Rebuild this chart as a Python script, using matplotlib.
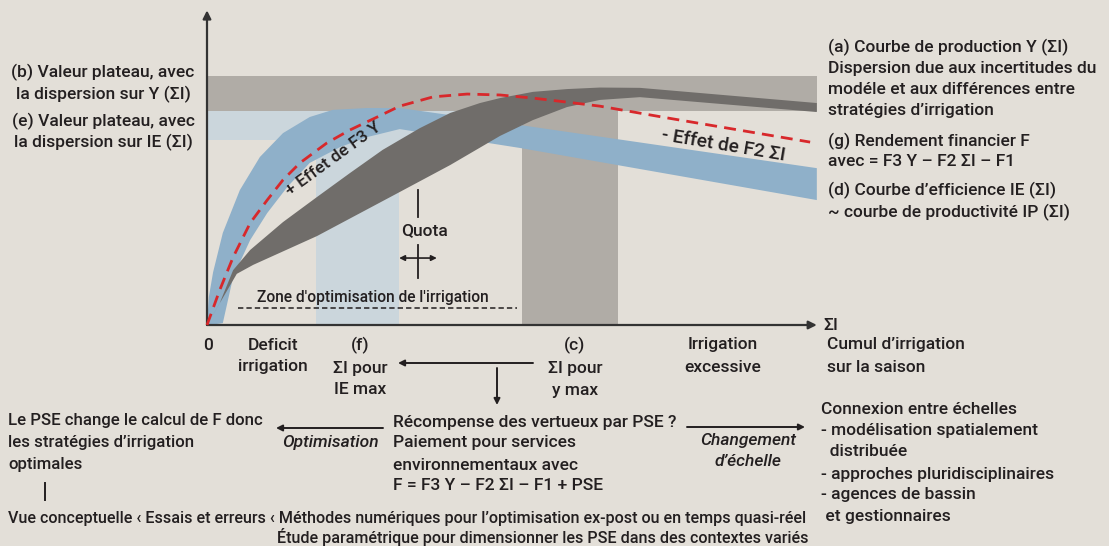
import numpy as np
import matplotlib
matplotlib.use('Agg')
import matplotlib.pyplot as plt

plt.rcParams['font.family'] = ['Roboto', 'DejaVu Sans']
plt.rcParams['font.weight'] = 'medium'

# cumul d'irrigation sur l'axe x (0-100), valeurs relatives sur l'axe y (0-100)
plateau_y = (69.0, 80.3)          # (b) valeur plateau de Y
plateau_ie = (59.7, 69.0)         # (e) valeur plateau de IE
plateau_ie_fin = 51.5
plateau_fin = 100.3
zone_f = (17.9, 31.6)             # (f) SI pour IE max
zone_c = (51.8, 67.6)             # (c) SI pour Y max
zone_optim = (5.1, 51.0)
quota_x = 34.7

# (d) courbe d'efficience IE, bords haut et bas
ie_haut_x = [0, 0.3, 1.0, 2.6, 5.4, 8.7, 12.5, 16.9, 20.7, 26.3, 31.7, 51.5, 100.3]
ie_haut_y = [0, 9.0, 17.0, 29.7, 43.5, 54.2, 61.9, 67.1, 69.4, 70.0, 70.0, 64.5, 50.6]
ie_bas_x = [0.5, 2.6, 4.3, 7.1, 9.9, 13.2, 16.9, 21.9, 26.3, 31.7, 51.5, 100.3]
ie_bas_y = [0, 0.6, 15.5, 27.4, 36.1, 44.5, 52.3, 57.4, 60.6, 63.2, 57.1, 40.3]

# (a) courbe de production Y, bords haut et bas
y_haut_x = [0, 2.1, 4.3, 7.1, 12.5, 18.1, 23.5, 28.9, 35.0, 40.0, 44.9, 48.2, 53.6, 59.2, 64.6, 71.2, 100.3]
y_haut_y = [0, 7.1, 17.7, 24.2, 33.2, 41.3, 49.0, 56.5, 63.5, 68.4, 71.6, 73.2, 75.2, 76.1, 76.6, 76.5, 71.6]
y_bas_x = [0, 2.5, 4.9, 7.6, 18.1, 31.7, 40.0, 48.2, 53.6, 59.2, 64.6, 71.2, 100.3]
y_bas_y = [0, 8.4, 16.5, 19.4, 28.7, 42.9, 51.6, 61.0, 66.1, 70.3, 72.6, 73.5, 68.7]

# (g) rendement financier F
f_x = [0, 2.1, 4.3, 7.1, 9.9, 12.5, 15.3, 19.7, 23.5, 28.0, 31.7, 37.2, 42.8, 48.2, 53.6, 59.2, 64.6, 75.7, 99.2]
f_y = [0, 11.3, 21.9, 32.9, 40.3, 46.8, 52.3, 58.7, 62.9, 67.1, 70.6, 73.6, 74.5, 74.2, 73.2, 71.9, 70.6, 66.8, 59.0]

BG = '#e3dfd8'
GRIS_CLAIR = '#b0aca6'
BLEU_CLAIR = '#cbd6dc'
BLEU = '#8fb0c9'
GRIS_FONCE = '#706d6a'
ROUGE = '#d8282b'
NOIR = '#231f20'

W, H = 1109, 546
fig = plt.figure(figsize=(W / 100, H / 100), dpi=100, facecolor=BG)

# zone du graphique : de x=207 à 815 px, de y=15 à 325 px
ax = fig.add_axes([207 / W, (H - 325) / H, 608 / W, 310 / H])
ax.set_facecolor('none')
ax.set_xlim(0, 100)
ax.set_ylim(0, 100)
for s in ax.spines.values():
    s.set_visible(False)
ax.set_xticks([])
ax.set_yticks([])

# plateaux et zones verticales
ax.fill_between([0, plateau_fin], plateau_y[0], plateau_y[1], color=GRIS_CLAIR, lw=0, zorder=1, clip_on=False)
ax.fill_between([0, plateau_ie_fin], plateau_ie[0], plateau_ie[1], color=BLEU_CLAIR, lw=0, zorder=1)
ax.bar(zone_f[0], plateau_ie[0], width=zone_f[1] - zone_f[0], align='edge', color=BLEU_CLAIR, lw=0, zorder=1)
ax.bar(zone_c[0], plateau_y[0], width=zone_c[1] - zone_c[0], align='edge', color=GRIS_CLAIR, lw=0, zorder=1)

# bandes de dispersion
ax.fill(ie_haut_x + ie_bas_x[::-1], ie_haut_y + ie_bas_y[::-1], color=BLEU, lw=0, zorder=2, clip_on=False)
ax.fill(y_haut_x + y_bas_x[::-1], y_haut_y + y_bas_y[::-1], color=GRIS_FONCE, lw=0, zorder=3, clip_on=False)
ax.plot(f_x, f_y, color=ROUGE, lw=2, dashes=(4.3, 2.6), zorder=4, clip_on=False)

# zone d'optimisation
ax.plot(zone_optim, [5.5, 5.5], color=NOIR, lw=1.1, dashes=(3.5, 2), zorder=4)
ax.text(27.2, 8.8, 'Zone d\'optimisation de l\'irrigation', ha='center', va='center',
        fontsize=11.2, color=NOIR, zorder=5)

# quota
ax.plot([quota_x, quota_x], [34.8, 43.5], color=NOIR, lw=1.3, zorder=4)
ax.text(quota_x + 1.1, 30.3, 'Quota', ha='center', va='center', fontsize=12.5, color=NOIR)
ax.plot([quota_x, quota_x], [15.2, 25.8], color=NOIR, lw=1.3, zorder=4)
ax.annotate('', xy=(quota_x - 3.1, 21.6), xytext=(quota_x + 3.1, 21.6),
            arrowprops=dict(arrowstyle='<|-|>', color=NOIR, lw=1.2, mutation_scale=8, shrinkA=0, shrinkB=0))

ax.text(20.8, 53.6, '+ Effet de F3 Y', rotation=36, ha='center', va='center',
        fontsize=12.5, color=NOIR, zorder=5, rotation_mode='anchor')
ax.text(85.0, 58.0, '- Effet de F2 ΣI', rotation=-9.5, ha='center', va='center',
        fontsize=13.8, color=NOIR, zorder=5, rotation_mode='anchor')

# axes avec flèches
ax.annotate('', xy=(0, 101.5), xytext=(0, 0), annotation_clip=False,
            arrowprops=dict(arrowstyle='-|>', color='#333333', lw=1.6, mutation_scale=12, shrinkA=0, shrinkB=0))
ax.annotate('', xy=(100.3, 0), xytext=(0, 0), annotation_clip=False,
            arrowprops=dict(arrowstyle='-|>', color='#333333', lw=1.6, mutation_scale=12, shrinkA=0, shrinkB=0))

# textes autour du graphique, en pixels
ov = fig.add_axes([0, 0, 1, 1], zorder=10)
ov.set_xlim(0, W)
ov.set_ylim(H, 0)
ov.axis('off')

fs = 12.5

def txt(x, y, s, ha='left', **kw):
    ov.text(x, y, s, ha=ha, va='center', fontsize=kw.pop('fontsize', fs), color=NOIR, **kw)

for y, s in zip([72, 94, 121, 142], ['(b) Valeur plateau, avec', 'la dispersion sur Y (ΣI)',
                                     '(e) Valeur plateau, avec', 'la dispersion sur IE (ΣI)']):
    txt(103, y, s, ha='center')

for y, s in zip([47, 68, 90, 111, 141, 162, 190, 212],
                ['(a) Courbe de production Y (ΣI)', 'Dispersion due aux incertitudes du',
                 'modéle et aux différences entre', 'stratégies d’irrigation',
                 '(g) Rendement financier F', 'avec = F3 Y – F2 ΣI – F1',
                 '(d) Courbe d’efficience IE (ΣI)', '~ courbe de productivité IP (ΣI)']):
    txt(828, y, s)

txt(831, 325, 'ΣI', ha='center')
txt(208, 345, '0', ha='center')
txt(273, 345, 'Deficit', ha='center')
txt(273, 367, 'irrigation', ha='center')
for y, s in zip([345, 368, 390], ['(f)', 'ΣI pour', 'IE max']):
    txt(360, y, s, ha='center')
for y, s in zip([345, 368, 390], ['(c)', 'ΣI pour', 'y max']):
    txt(575, y, s, ha='center')
txt(723, 345, 'Irrigation', ha='center')
txt(723, 367, 'excessive', ha='center')
txt(827, 345, 'Cumul d’irrigation')
txt(827, 367, 'sur la saison')

flat = dict(color=NOIR, lw=1.4, mutation_scale=9, shrinkA=0, shrinkB=0)
ov.annotate('', xy=(398, 363), xytext=(533, 363), arrowprops=dict(arrowstyle='-|>', **flat))
ov.annotate('', xy=(497, 405), xytext=(497, 368), arrowprops=dict(arrowstyle='-|>', **flat))
ov.annotate('', xy=(276, 428), xytext=(383, 428), arrowprops=dict(arrowstyle='-|>', **flat))
ov.annotate('', xy=(805, 427), xytext=(687, 427), arrowprops=dict(arrowstyle='-|>', **flat))

for y, s in zip([420, 442, 464], ['Le PSE change le calcul de F donc', 'les stratégies d’irrigation', 'optimales']):
    txt(8, y, s, fontsize=12.1)
ov.plot([45, 45], [483, 500], color=NOIR, lw=1.4)
txt(379, 442, 'Optimisation', ha='right', style='italic')

for y, s in zip([423, 443, 465, 486], ['Récompense des vertueux par PSE ?', 'Paiement pour services',
                                       'environnementaux avec', 'F = F3 Y – F2 ΣI – F1 + PSE']):
    txt(393, y, s)

txt(748, 441, 'Changement', ha='center', style='italic')
txt(748, 462, 'd’échelle', ha='center', style='italic')

for y, s in zip([409, 431, 452, 474, 495, 517],
                ['Connexion entre échelles', '- modélisation spatialement', '  distribuée',
                 '- approches pluridisciplinaires', '- agences de bassin', ' et gestionnaires']):
    txt(821, y, s)

txt(8, 518, 'Vue conceptuelle ‹ Essais et erreurs ‹ Méthodes numériques pour l’optimisation ex-post ou en temps quasi-réel',
    fontsize=11.6)
txt(277, 537, 'Étude paramétrique pour dimensionner les PSE dans des contextes variés', fontsize=11.6)

fig.savefig('out.png', dpi=100, facecolor=BG)
